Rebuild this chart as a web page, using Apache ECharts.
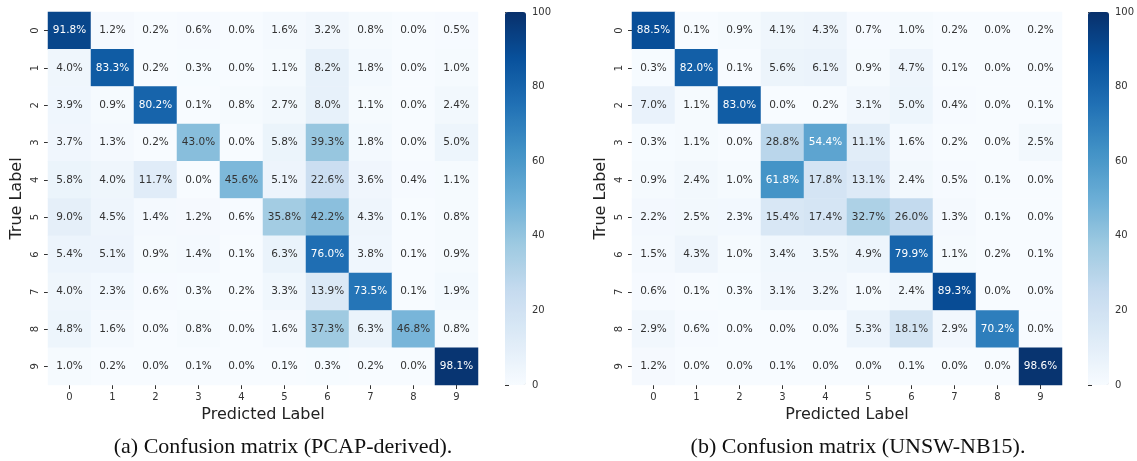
<!DOCTYPE html>
<html>
<head>
<meta charset="utf-8">
<title>Confusion matrices</title>
<style>
  html, body { margin: 0; padding: 0; background: #ffffff; }
  #chart { width: 1137px; height: 461px; }
</style>
<script src="https://cdn.jsdelivr.net/npm/echarts@6/dist/echarts.min.js"></script>
</head>
<body>
<div id="chart"></div>
<script>
// Class labels shared by both matrices (rows = true, columns = predicted)
const classLabels = ['0', '1', '2', '3', '4', '5', '6', '7', '8', '9'];

// Row-normalised confusion matrix, PCAP-derived dataset (percent)
const pcapRows = [
  [91.8, 1.2, 0.2, 0.6, 0.0, 1.6, 3.2, 0.8, 0.0, 0.5],
  [4.0, 83.3, 0.2, 0.3, 0.0, 1.1, 8.2, 1.8, 0.0, 1.0],
  [3.9, 0.9, 80.2, 0.1, 0.8, 2.7, 8.0, 1.1, 0.0, 2.4],
  [3.7, 1.3, 0.2, 43.0, 0.0, 5.8, 39.3, 1.8, 0.0, 5.0],
  [5.8, 4.0, 11.7, 0.0, 45.6, 5.1, 22.6, 3.6, 0.4, 1.1],
  [9.0, 4.5, 1.4, 1.2, 0.6, 35.8, 42.2, 4.3, 0.1, 0.8],
  [5.4, 5.1, 0.9, 1.4, 0.1, 6.3, 76.0, 3.8, 0.1, 0.9],
  [4.0, 2.3, 0.6, 0.3, 0.2, 3.3, 13.9, 73.5, 0.1, 1.9],
  [4.8, 1.6, 0.0, 0.8, 0.0, 1.6, 37.3, 6.3, 46.8, 0.8],
  [1.0, 0.2, 0.0, 0.1, 0.0, 0.1, 0.3, 0.2, 0.0, 98.1]
];

// Row-normalised confusion matrix, UNSW-NB15 dataset (percent)
const unswRows = [
  [88.5, 0.1, 0.9, 4.1, 4.3, 0.7, 1.0, 0.2, 0.0, 0.2],
  [0.3, 82.0, 0.1, 5.6, 6.1, 0.9, 4.7, 0.1, 0.0, 0.0],
  [7.0, 1.1, 83.0, 0.0, 0.2, 3.1, 5.0, 0.4, 0.0, 0.1],
  [0.3, 1.1, 0.0, 28.8, 54.4, 11.1, 1.6, 0.2, 0.0, 2.5],
  [0.9, 2.4, 1.0, 61.8, 17.8, 13.1, 2.4, 0.5, 0.1, 0.0],
  [2.2, 2.5, 2.3, 15.4, 17.4, 32.7, 26.0, 1.3, 0.1, 0.0],
  [1.5, 4.3, 1.0, 3.4, 3.5, 4.9, 79.9, 1.1, 0.2, 0.1],
  [0.6, 0.1, 0.3, 3.1, 3.2, 1.0, 2.4, 89.3, 0.0, 0.0],
  [2.9, 0.6, 0.0, 0.0, 0.0, 5.3, 18.1, 2.9, 70.2, 0.0],
  [1.2, 0.0, 0.0, 0.1, 0.0, 0.0, 0.1, 0.0, 0.0, 98.6]
];

// Colour scale range and text
const scaleMin = 0;
const scaleMax = 100;
const scaleStep = 20;
const xTitle = 'Predicted Label';
const yTitle = 'True Label';
const captionA = '(a) Confusion matrix (PCAP-derived).';
const captionB = '(b) Confusion matrix (UNSW-NB15).';

// Sequential blue palette (light to dark)
const blues = ['#f7fbff', '#deebf7', '#c6dbef', '#9ecae1', '#6baed6',
               '#4292c6', '#2171b5', '#08519c', '#08306b'];

const SANS = 'DejaVu Sans';
const TEXT = '#333333';

function cellsFrom(rows) {
  const out = [];
  rows.forEach((row, r) => row.forEach((v, c) => {
    out.push({ value: [c, r, v], label: { color: v > 50 ? '#ffffff' : TEXT } });
  }));
  return out;
}

function matrixAxes(gridIndex) {
  return {
    x: {
      type: 'category', gridIndex, data: classLabels, position: 'bottom',
      axisLine: { show: false },
      axisTick: { show: true, alignWithLabel: true, length: 4, lineStyle: { color: TEXT } },
      axisLabel: { fontSize: 10, color: TEXT, fontFamily: SANS, margin: 7 },
      splitLine: { show: false },
      name: xTitle, nameLocation: 'middle', nameGap: 20,
      nameTextStyle: { fontSize: 16, color: '#222222', fontFamily: SANS }
    },
    y: {
      type: 'category', gridIndex, data: classLabels, inverse: true,
      axisLine: { show: false },
      axisTick: { show: true, alignWithLabel: true, length: 4, lineStyle: { color: TEXT } },
      axisLabel: { fontSize: 10, color: TEXT, fontFamily: SANS, rotate: 90, margin: 8 },
      splitLine: { show: false },
      name: yTitle, nameLocation: 'middle', nameGap: 23, nameRotate: 90,
      nameTextStyle: { fontSize: 16, color: '#222222', fontFamily: SANS }
    }
  };
}

function barAxes(gridIndex) {
  return {
    x: { type: 'value', gridIndex, show: false, min: 0, max: 1 },
    y: {
      type: 'value', gridIndex, min: scaleMin, max: scaleMax, interval: scaleStep,
      position: 'right',
      axisLine: { show: false },
      axisTick: { show: true, length: 4, lineStyle: { color: TEXT } },
      axisLabel: { fontSize: 10, color: TEXT, fontFamily: SANS, margin: 6 },
      splitLine: { show: false }
    }
  };
}

const mA = matrixAxes(0), mB = matrixAxes(1), cA = barAxes(2), cB = barAxes(3);

function heatSeries(i, rows) {
  return {
    type: 'heatmap', xAxisIndex: i, yAxisIndex: i, data: cellsFrom(rows),
    label: {
      show: true, fontSize: 10.5, fontFamily: SANS,
      formatter: p => p.value[2].toFixed(1) + '%'
    },
    emphasis: { disabled: true }
  };
}

function colorbar(seriesIndex, left) {
  return {
    type: 'continuous', seriesIndex, min: scaleMin, max: scaleMax,
    left, top: 12, itemWidth: 21, itemHeight: 373, padding: 0,
    calculable: false, hoverLink: false, text: null, orient: 'vertical',
    inRange: { color: blues }
  };
}

function caption(text, cx) {
  return {
    type: 'text', x: cx, y: 447,
    style: {
      text, font: '22px "Liberation Serif"', fill: '#111111',
      align: 'center', verticalAlign: 'middle',
      textAlign: 'center', textVerticalAlign: 'middle'
    }
  };
}

const chart = echarts.init(document.getElementById('chart'), null, { renderer: 'canvas' });
chart.setOption({
  backgroundColor: '#ffffff',
  animation: false,
  grid: [
    { left: 48, top: 12, width: 430, height: 373 },
    { left: 632, top: 12, width: 430, height: 373 },
    { left: 505, top: 12, width: 21, height: 373 },
    { left: 1088, top: 12, width: 21, height: 373 }
  ],
  xAxis: [mA.x, mB.x, cA.x, cB.x],
  yAxis: [mA.y, mB.y, cA.y, cB.y],
  visualMap: [colorbar(0, 505), colorbar(1, 1088)],
  series: [
    heatSeries(0, pcapRows),
    heatSeries(1, unswRows),
    { type: 'line', xAxisIndex: 2, yAxisIndex: 2, data: [], silent: true },
    { type: 'line', xAxisIndex: 3, yAxisIndex: 3, data: [], silent: true }
  ],
  graphic: [caption(captionA, 283), caption(captionB, 858)]
});
</script>
</body>
</html>
